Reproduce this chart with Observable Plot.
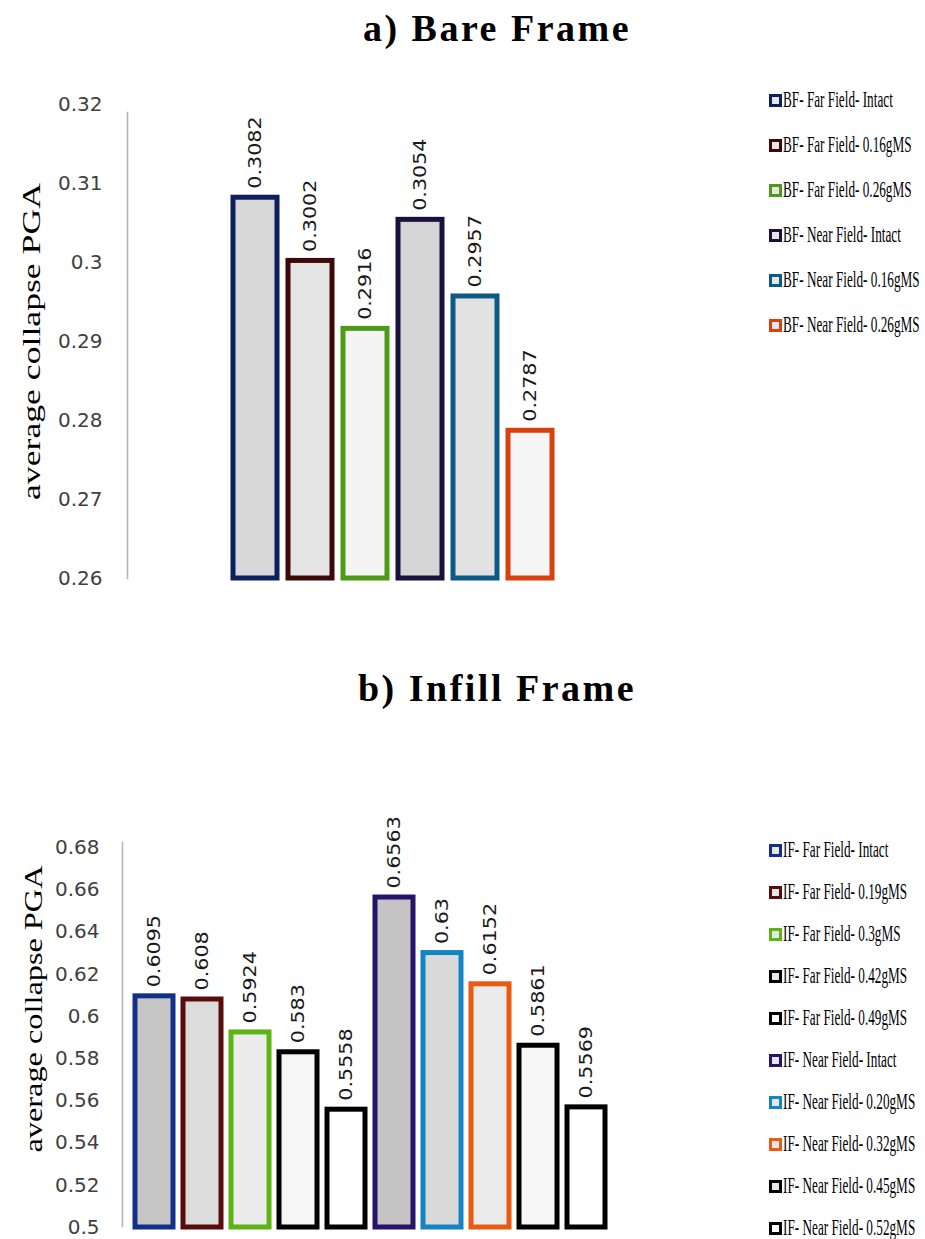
<!DOCTYPE html>
<html><head><meta charset="utf-8">
<script src="https://cdn.jsdelivr.net/npm/d3@7"></script>
<script src="https://cdn.jsdelivr.net/npm/@observablehq/plot@0.6"></script>
<style>
body{margin:0;background:#fff;}
#root{position:relative;width:925px;height:1239px;overflow:hidden;background:#fff;}
.chart{position:absolute;left:0;}
.title{position:absolute;transform:translateX(-50%);font-family:"Liberation Serif","Times New Roman",serif;font-weight:bold;font-size:38px;line-height:38px;letter-spacing:2.5px;white-space:nowrap;color:#000;}
.legend-row{position:absolute;left:769px;height:24px;display:flex;align-items:center;white-space:nowrap;}
.sw{width:13px;height:13px;box-sizing:border-box;border:3px solid;margin-right:1px;flex:none;}
.lt{font-family:"Liberation Serif",serif;font-size:23px;line-height:24px;transform:scaleX(0.575);transform-origin:left center;color:#000;}
</style></head>
<body><div id="root"></div>
<script>
// ---------- data: chart a) Bare Frame ----------
const catsA = ["BF- Far Field- Intact","BF- Far Field- 0.16gMS","BF- Far Field- 0.26gMS","BF- Near Field- Intact","BF- Near Field- 0.16gMS","BF- Near Field- 0.26gMS"];
const valuesA = [0.3082, 0.3002, 0.2916, 0.3054, 0.2957, 0.2787];
const ticksA = [0.26, 0.27, 0.28, 0.29, 0.30, 0.31, 0.32];
const domainA = [0.26, 0.32];
// ---------- data: chart b) Infill Frame ----------
const catsB = ["IF- Far Field- Intact","IF- Far Field- 0.19gMS","IF- Far Field- 0.3gMS","IF- Far Field- 0.42gMS","IF- Far Field- 0.49gMS","IF- Near Field- Intact","IF- Near Field- 0.20gMS","IF- Near Field- 0.32gMS","IF- Near Field- 0.45gMS","IF- Near Field- 0.52gMS"];
const valuesB = [0.6095, 0.608, 0.5924, 0.583, 0.5558, 0.6563, 0.63, 0.6152, 0.5861, 0.5569];
const ticksB = [0.5, 0.52, 0.54, 0.56, 0.58, 0.6, 0.62, 0.64, 0.66, 0.68];
const domainB = [0.5, 0.68];
const yLabel = "average collapse PGA";
const titleA = "a) Bare Frame";
const titleB = "b) Infill Frame";

// ---------- styles ----------
const strokeA = ["#0d1f5c","#3f0808","#4e9a16","#1b0f3c","#0e5a86","#d8400e"];
const fillA   = ["#d8d8d8","#e4e4e4","#f4f4f4","#d6d6d6","#e2e2e2","#f5f5f5"];
const strokeB = ["#12308a","#5a0c0c","#5cb514","#000000","#000000","#26136a","#1485c4","#ea5b12","#000000","#000000"];
const fillB   = ["#c6c6c6","#dcdcdc","#ececec","#f6f6f6","#ffffff","#c4c4c4","#dadada","#ebebeb","#f7f7f7","#ffffff"];

const root = document.getElementById("root");
const fmt = d => String(+d.toFixed(2));

function chart(o) {
  const rows = o.cats.map((name, i) => ({name, value: o.values[i], stroke: o.strokes[i], fill: o.fills[i]}));
  const svg = Plot.plot({
    width: 925, height: o.height,
    marginLeft: o.marginLeft, marginTop: o.marginTop, marginBottom: o.marginBottom, marginRight: 0,
    style: {color: "#404040", background: "transparent"},
    x: {type: "band", domain: o.cats, range: o.xRange, paddingInner: 0.2, paddingOuter: 0.1, axis: null},
    y: {domain: o.domain, range: o.yRange, axis: null},
    color: {type: "identity"},
    marks: [
      Plot.frame({anchor: "left", stroke: "#b4b4b4", strokeWidth: 1.6, strokeDasharray: "1.5,1"}),
      Plot.axisY({ticks: o.ticks, tickFormat: fmt, tickSize: 0, tickPadding: o.tickPadding, fontSize: 20, fontFamily: "DejaVu Sans", label: null}),
      Plot.barY(rows, {x: "name", y1: () => o.domain[0], y2: "value", fill: "fill", stroke: "stroke", strokeWidth: 5}),
      Plot.text(rows, {x: "name", y: "value", text: d => String(d.value), rotate: -90, textAnchor: "start", dy: -9, fontSize: 18, fontFamily: "DejaVu Sans", fill: "#1a1a1a"}),
      Plot.text([yLabel], {frameAnchor: "left", text: d => d, rotate: -90, textAnchor: "start", dx: o.labelDx, dy: o.labelDy + o.labelLength / 2, fontSize: 25, fontFamily: "Liberation Serif", fill: "#000"})
    ]
  });
  d3.select(svg).selectAll("text").each(function() {
    const t = this.getAttribute("transform") || "";
    const s = this.textContent;
    if (s === yLabel) {
      this.setAttribute("textLength", o.labelLength);
      this.setAttribute("lengthAdjust", "spacingAndGlyphs");
    } else if (/rotate/.test(t) && /^0\.\d+$/.test(s)) {
      this.setAttribute("transform", t + " scale(1.15,1)");
    }
  });
  svg.classList.add("chart");
  svg.style.top = o.top + "px";
  root.appendChild(svg);

  const title = document.createElement("div");
  title.className = "title";
  title.textContent = o.title;
  title.style.left = "497px";
  title.style.top = o.titleTop + "px";
  root.appendChild(title);

  o.cats.forEach((name, i) => {
    const row = document.createElement("div");
    row.className = "legend-row";
    row.style.top = (o.legendY0 + o.legendStep * i - 12) + "px";
    const sw = document.createElement("div");
    sw.className = "sw";
    sw.style.borderColor = o.strokes[i];
    sw.style.background = o.fills[i] === "#ffffff" ? "#ffffff" : "#e6e6e6";
    const tx = document.createElement("span");
    tx.className = "lt";
    tx.textContent = name;
    row.appendChild(sw); row.appendChild(tx);
    root.appendChild(row);
  });
}

chart({cats: catsA, values: valuesA, ticks: ticksA, strokes: strokeA, fills: fillA, domain: domainA,
  top: 0, height: 620, marginLeft: 127, marginTop: 112, marginBottom: 42,
  yRange: [578, 104], xRange: [226.85, 558.65], tickPadding: 25,
  labelDx: -96, labelDy: -4, labelLength: 317,
  title: titleA, titleTop: 9, legendY0: 100, legendStep: 45});

chart({cats: catsB, values: valuesB, ticks: ticksB, strokes: strokeB, fills: fillB, domain: domainB,
  top: 620, height: 619, marginLeft: 122, marginTop: 222, marginBottom: 12,
  yRange: [607, 227], xRange: [129.45, 610.45], tickPadding: 23,
  labelDx: -89, labelDy: -26, labelLength: 287,
  title: titleB, titleTop: 669, legendY0: 850, legendStep: 42});
</script>
</body></html>
